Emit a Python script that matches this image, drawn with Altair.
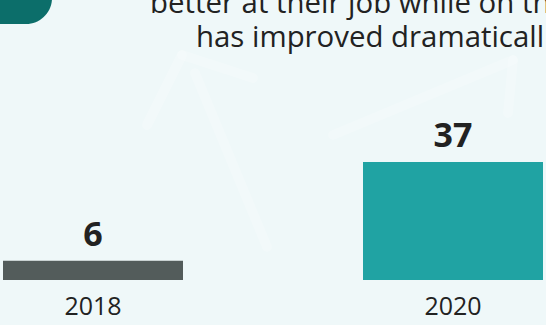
import altair as alt
import pandas as pd

years = ["2018", "2020"]
values = [6, 37]
bar_colors = ["#535c5b", "#20a3a3"]

title_lines = ["better at their job while on th", "has improved dramaticall"]
title_x = [147, 193]
title_y = [13, 47]

BG = "#eff8f9"
FONT = "Open Sans"

bars_df = pd.DataFrame({"year": years, "value": values, "color": bar_colors})
title_df = pd.DataFrame({"text": title_lines, "x": title_x, "y": title_y})

# faint decorative arrows (pixel positions)
arrows_df = pd.DataFrame({
    "x": [264, 144, 179, 330, 510],
    "y": [247, 125, 55, 135, 60],
    "x2": [192, 179, 250, 510, 505],
    "y2": [73, 55, 78, 60, 113],
})

xenc = alt.X("year:N", sort=years,
             scale=alt.Scale(paddingInner=0.5, paddingOuter=0),
             axis=alt.Axis(title=None, labelAngle=0, ticks=False, domain=False,
                           labelFontSize=25, labelColor="#222222", labelFont=FONT,
                           labelPadding=14, grid=False))
yenc = alt.Y("value:Q", scale=alt.Scale(domain=[0, 87.8]), axis=None)

base = alt.Chart(bars_df)

arrows = alt.Chart(arrows_df).mark_rule(
    color="#ffffff", opacity=0.18, strokeWidth=10, strokeCap="round"
).encode(
    x=alt.X("x:Q", scale=None), y=alt.Y("y:Q", scale=None),
    x2="x2:Q", y2="y2:Q"
)

bars = base.mark_bar().encode(
    x=xenc, y=yenc, color=alt.Color("color:N", scale=None)
)

labels = base.mark_text(
    dy=-15, baseline="alphabetic", fontSize=34, fontWeight="bold",
    font=FONT, color="#222222"
).encode(x=xenc, y=yenc, text="value:Q")

title = alt.Chart(title_df).mark_text(
    align="left", baseline="alphabetic", fontSize=29.4, font=FONT, color="#222222"
).encode(
    x=alt.X("x:Q", scale=None), y=alt.Y("y:Q", scale=None), text="text:N"
)

corner = alt.Chart(pd.DataFrame({"k": [0]})).mark_rect(
    color="#0c6e6a", cornerRadius=26
).encode(
    x=alt.value(-60), x2=alt.value(49), y=alt.value(-60), y2=alt.value(24)
)

chart = alt.layer(arrows, corner, bars, labels, title).properties(
    width=540, height=280,
    autosize=alt.AutoSizeParams(type="none"),
    padding={"left": 3, "top": 0, "right": 3, "bottom": 45},
    background=BG,
).configure_view(stroke=None)

chart.save("out.html", embed_options={"renderer": "svg", "actions": False})
